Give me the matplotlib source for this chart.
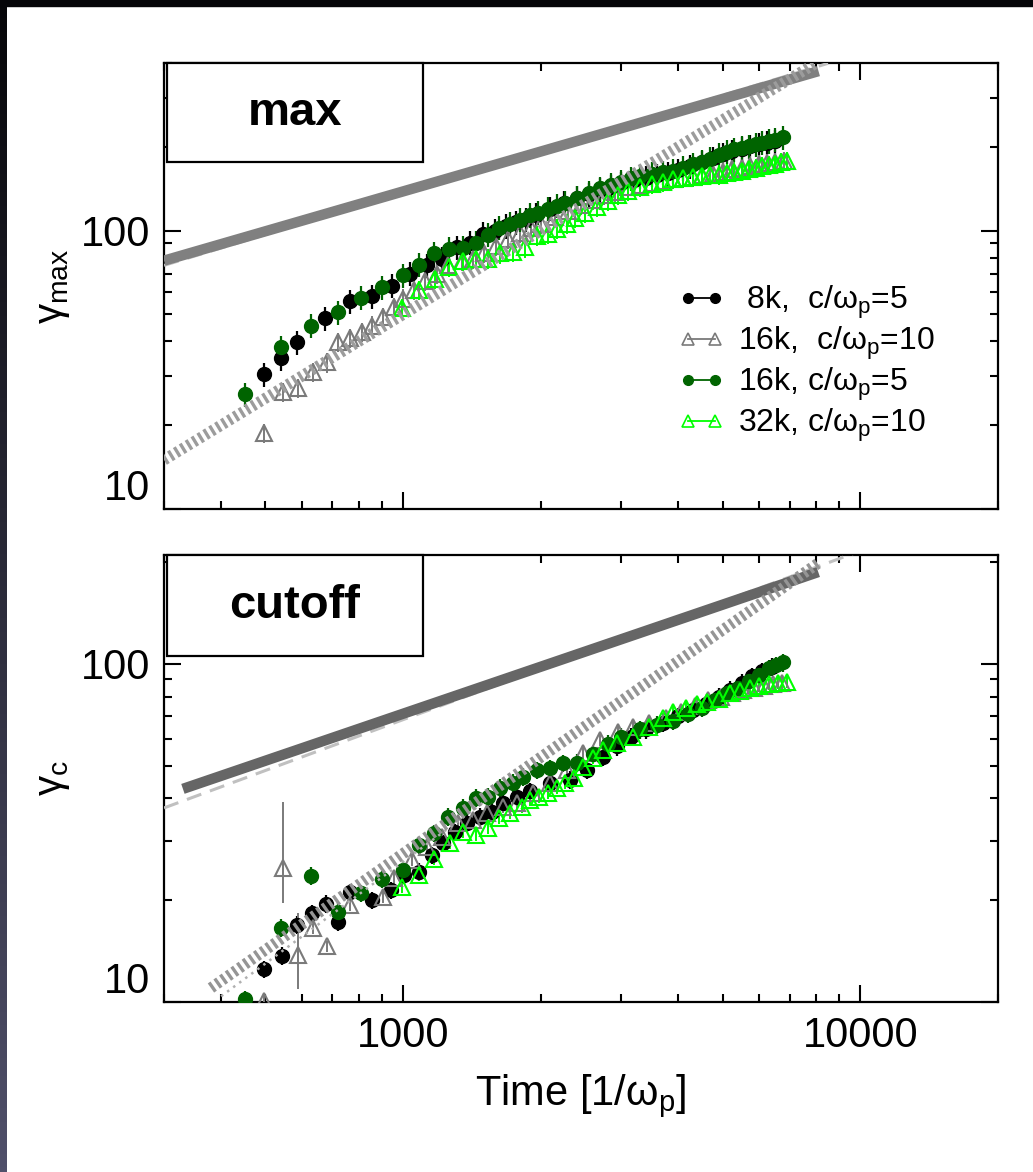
import numpy as np
import matplotlib
matplotlib.use('Agg')
import matplotlib.pyplot as plt
from matplotlib.lines import Line2D
from matplotlib.patches import Rectangle
from matplotlib.ticker import NullFormatter

plt.rcParams['font.family'] = ['Liberation Sans Narrow', 'Liberation Sans', 'DejaVu Sans']
plt.rcParams['mathtext.fontset'] = 'custom'
plt.rcParams['mathtext.rm'] = 'Liberation Sans'
plt.rcParams['mathtext.it'] = 'Liberation Sans:italic'

# ---------------- data : gamma_max (top panel) ----------------
t_8k_max = [497, 541, 586, 675, 766, 856, 946, 1036, 1129, 1217, 1313, 1402, 1496, 1590, 1680,
            1770, 1860, 1950, 2100, 2250, 2400, 2550, 2700, 2850, 3000, 3200, 3400, 3600, 3800,
            4000, 4250, 4500, 4750, 5000, 5250, 5500, 5750, 6000, 6250, 6500]
g_8k_max = [30.5, 34.8, 39.7, 48.4, 55.7, 58, 63.5, 70, 75, 79.3, 87, 90.6, 97.6, 100, 104,
            107, 110, 114, 120, 126, 131, 135, 140, 144, 148, 152, 155, 158, 161,
            165, 170, 176, 182, 188, 193, 197, 201, 204, 207, 209]

t_16k10_max = [497, 547, 590, 635, 682, 721, 766, 813, 856, 904, 953, 1000, 1057, 1117, 1186,
               1254, 1346, 1423, 1500, 1600, 1700, 1800, 1900, 2000, 2150, 2300, 2450, 2600,
               2750, 2900, 3100, 3300, 3500, 3700, 3900, 4100, 4300, 4500, 4750, 5000, 5250,
               5500, 5750, 6000, 6250, 6500, 6800]
g_16k10_max = [18.7, 26.3, 27.2, 31.0, 33.6, 39.7, 41, 43.1, 45.6, 48.8, 53, 57, 61, 66, 70,
               75, 78, 79, 83, 88, 93, 98, 102, 106, 112, 118, 124, 129,
               134, 138, 143, 146, 148, 151, 153, 155, 156, 158, 160, 163, 166,
               168, 171, 173, 175, 176, 178]

t_16k5_max = [450, 541, 629, 721, 809, 900, 1000, 1084, 1170, 1261, 1353, 1444, 1535, 1621, 1714,
              1803, 1895, 1974, 2075, 2174, 2263, 2400, 2550, 2700, 2850, 3000, 3150, 3300, 3500,
              3700, 3900, 4100, 4300, 4500, 4700, 4900, 5100, 5300, 5500, 5700, 5900, 6100, 6300,
              6500, 6790]
g_16k5_max = [25.8, 38.1, 45.6, 50.8, 57.5, 62.5, 69, 75.5, 82.8, 86.2, 86.9, 90.6, 96.8, 102.5, 106,
              109.5, 114, 116, 120, 123, 126, 131, 137, 142, 146, 150, 154, 157, 160,
              162, 164, 168, 173, 177, 181, 187, 192, 196, 198, 201, 204, 207, 210,
              212, 216]

t_32k_max = [995, 1084, 1175, 1261, 1353, 1444, 1535, 1630, 1741, 1846, 1963, 2075, 2174, 2283,
             2380, 2500, 2650, 2800, 2950, 3100, 3300, 3500, 3700, 3900, 4100, 4300, 4500, 4700,
             4900, 5100, 5300, 5500, 5700, 5900, 6100, 6300, 6500, 6700, 6920]
g_32k_max = [52.6, 61, 67, 74, 78, 79, 79.3, 82.8, 83.5, 87, 96, 97.6, 101.6, 106,
             111, 116, 122, 128, 134, 139, 143, 147, 150, 153, 155, 156, 157, 158,
             159, 161, 163, 164, 166, 168, 170, 172, 174, 176, 178]

# fit lines, top panel (end points)
fit_solid_max_t = [300, 8100]
fit_solid_max_g = [78, 374]
fit_dash_max_t = [300, 8500]
fit_dash_max_g = [75, 399]
fit_dot_max_t = [300, 8000]
fit_dot_max_g = [15, 400]

# ---------------- data : gamma_c (bottom panel) ----------------
t_8k_c = [497, 544, 586, 632, 678, 721, 766, 856, 942, 1005, 1084, 1157, 1223, 1300, 1380,
          1474, 1565, 1655, 1776, 1895, 2097, 2318, 2529, 2736, 2936, 3150, 3400, 3700, 4000,
          4300, 4600, 4900, 5200, 5500, 5800, 6100, 6400]
g_8k_c = [12.5, 13.7, 16.9, 18.3, 19.5, 17.3, 21.1, 20.0, 21.4, 23.8, 24.3, 27.2, 29.5, 31.8, 33.9,
          35.3, 36.5, 38.8, 40.5, 42, 44.5, 45.4, 48.5, 53, 57, 61, 64, 67, 70,
          73, 76, 80, 84, 88, 92, 95, 98]

t_16k10_c = [497, 547, 590, 635, 682, 766, 904, 953, 1046, 1129, 1217, 1320, 1423, 1527, 1655,
             1776, 1925, 2097, 2283, 2475, 2700, 2950, 3186, 3450, 3750, 4050, 4350, 4650, 4950,
             5250, 5550, 5850, 6150, 6450, 6750]
g_16k10_c = [10.1, 24.9, 13.8, 16.6, 14.6, 19.4, 20.5, 23.3, 26.3, 28.8, 30.8, 33.9, 34.6, 36.2, 37.8,
             38.8, 41.5, 44.5, 48.5, 54.5, 59.6, 63, 65.2, 67, 69, 72, 75, 78, 80,
             82, 84, 85, 86, 87, 88]
# the two large error bars of the 16k, c/wp=10 run
t_big_err = [547, 590]
g_big_err = [24.9, 13.8]
g_big_lo = [19.6, 10.9]
g_big_hi = [39.0, 18.3]

t_16k5_c = [450, 541, 629, 721, 809, 900, 1000, 1084, 1170, 1254, 1353, 1444, 1535, 1630, 1741,
            1833, 1963, 2097, 2240, 2400, 2600, 2800, 3000, 3300, 3600, 3900, 4200, 4500, 4800,
            5100, 5400, 5700, 6000, 6300, 6550, 6790]
g_16k5_c = [10.2, 16.6, 23.6, 18.5, 21.0, 23.1, 24.6, 29.1, 31.6, 35.3, 37.5, 40.2, 40.5, 43, 44.5,
            46.3, 48.5, 49.2, 50.9, 51, 54, 58, 61, 64, 66, 68, 71, 74, 78,
            82, 85, 89, 93, 97, 99, 101]

t_32k_c = [995, 1084, 1170, 1267, 1353, 1444, 1535, 1621, 1714, 1820, 1895, 1984, 2075, 2174, 2263,
           2360, 2475, 2604, 2736, 2936, 3190, 3450, 3700, 3900, 4150, 4400, 4624, 4900, 5200,
           5461, 5750, 6000, 6300, 6600, 6920]
g_32k_c = [21.9, 23.8, 26.5, 29.5, 31.8, 31.2, 32.7, 35, 36.2, 37.8, 39.6, 40.5, 41.5, 43, 44.5,
           46, 49.5, 52.7, 55.7, 58.4, 61, 65, 69, 72, 74, 76, 77, 79, 82,
           83, 85, 86, 87, 88, 88.5]

# fit lines, bottom panel (end points)
fit_solid_c_t = [330, 8090]
fit_solid_c_g = [42.7, 187]
fit_dash_c_t = [300, 10000]
fit_dash_c_g = [37.5, 216]
fit_dot_c_t = [380, 8100]
fit_dot_c_g = [11, 199]
fit_thin_c_t = [400, 1500]
fit_thin_c_g = [10.4, 39]

# relative error bars
err_circ_max = 0.10
err_tri_max = 0.08
err_circ_c = 0.06
err_tri_c = 0.04

black = 'black'
gray = '#7a7a7a'
dgreen = '#006400'
lgreen = '#00ff00'

fig = plt.figure(figsize=(10.33, 11.72), dpi=100)
fig.patch.set_facecolor('white')

# dark frame on the top and left of the picture
strip = fig.add_axes([0, 0, 7/1033, 1])
strip.imshow(np.linspace(0, 1, 256).reshape(-1, 1), aspect='auto',
             cmap=matplotlib.colors.LinearSegmentedColormap.from_list('s', ['#060609', '#50506a']))
strip.set_axis_off()
fig.patches.append(Rectangle((0, 1-6/1172), 1, 6/1172, transform=fig.transFigure, color='#050508', zorder=5))

ax1 = fig.add_axes([164/1033, 1-509/1172, 834/1033, 446/1172])
ax2 = fig.add_axes([164/1033, 1-1002/1172, 834/1033, 447/1172])


def plot_series(ax, t, g, err, color, marker):
    t = np.array(t)
    g = np.array(g)
    if marker == 'o':
        ax.errorbar(t, g, yerr=err*g, fmt='o', color=color, ms=10, elinewidth=1.6,
                    capsize=0, zorder=3)
    else:
        ax.errorbar(t, g, yerr=err*g, fmt='^', color=color, mfc='none', mec=color, mew=1.5,
                    ms=11.5, elinewidth=1.4, capsize=0, zorder=3)


# top panel
ax1.plot(fit_dash_max_t, fit_dash_max_g, color='#c0c0c0', lw=2.2, ls=(0, (5, 3)), zorder=4)
ax1.plot(fit_solid_max_t, fit_solid_max_g, color='#808080', lw=7.5, solid_capstyle='butt', zorder=4)
plot_series(ax1, t_8k_max, g_8k_max, err_circ_max, black, 'o')
plot_series(ax1, t_16k10_max, g_16k10_max, err_tri_max, gray, '^')
plot_series(ax1, t_16k5_max, g_16k5_max, err_circ_max, dgreen, 'o')
plot_series(ax1, t_32k_max, g_32k_max, err_tri_max, lgreen, '^')
ax1.plot(fit_dot_max_t, fit_dot_max_g, color='#9c9c9c', lw=8, ls=(0, (0.3, 0.32)),
         solid_capstyle='butt', dash_capstyle='butt', zorder=4)

# bottom panel
ax2.plot(fit_dash_c_t, fit_dash_c_g, color='#c0c0c0', lw=2.2, ls=(0, (5, 3)), zorder=4)
ax2.plot(fit_solid_c_t, fit_solid_c_g, color='#666666', lw=7.5, solid_capstyle='butt', zorder=4)
plot_series(ax2, t_8k_c, g_8k_c, err_circ_c, black, 'o')
plot_series(ax2, t_16k10_c, g_16k10_c, err_tri_c, gray, '^')
ax2.errorbar(t_big_err, g_big_err,
             yerr=[np.array(g_big_err)-np.array(g_big_lo), np.array(g_big_hi)-np.array(g_big_err)],
             fmt='none', ecolor=gray, elinewidth=1.4, capsize=0, zorder=3)
plot_series(ax2, t_16k5_c, g_16k5_c, err_circ_c, dgreen, 'o')
plot_series(ax2, t_32k_c, g_32k_c, err_tri_c, lgreen, '^')
ax2.plot(fit_thin_c_t, fit_thin_c_g, color='#b0b0b0', lw=1.8, ls=(0, (1, 2)), zorder=4)
ax2.plot(fit_dot_c_t, fit_dot_c_g, color='#959595', lw=8, ls=(0, (0.3, 0.32)),
         dash_capstyle='butt', zorder=4)

for ax, ylim in [(ax1, (10, 400)), (ax2, (10, 210))]:
    ax.set_xscale('log')
    ax.set_yscale('log')
    ax.set_xlim(300, 20000)
    ax.set_ylim(*ylim)
    ax.set_xticks([1000, 10000])
    ax.set_xticklabels(['1000', '10000'])
    ax.set_yticks([10, 100])
    ax.set_yticklabels(['10', '100'])
    ax.xaxis.set_minor_formatter(NullFormatter())
    ax.yaxis.set_minor_formatter(NullFormatter())
    ax.tick_params(which='both', direction='in', top=True, right=True, width=1.5,
                   labelsize=30, color='black')
    ax.tick_params(which='major', length=12, pad=10)
    ax.tick_params(which='minor', length=6)
    for s in ax.spines.values():
        s.set_linewidth(1.6)
    ax.get_yticklabels()[0].set_verticalalignment('bottom')

ax1.tick_params(labelbottom=False)

ax1.set_ylabel('γ$_\\mathrm{max}$', fontsize=29, labelpad=6)
ax2.set_ylabel('γ$_\\mathrm{c}$', fontsize=29, labelpad=6)
ax2.set_xlabel('Time [1/ω$_\\mathrm{p}$]', fontsize=30, labelpad=12)

# title boxes
for ax, txt, y0 in [(ax1, 'max', 0.778), (ax2, 'cutoff', 0.774)]:
    ax.add_patch(Rectangle((0.004, y0), 0.306, 1.0-y0, transform=ax.transAxes,
                           facecolor='white', edgecolor='black', lw=1.6, zorder=6, clip_on=False))
    ax.text(0.157, (1.0+y0)/2, txt, transform=ax.transAxes, ha='center', va='center',
            fontsize=34, fontweight='bold', family=['Liberation Sans', 'DejaVu Sans'], zorder=7)

# legend
handles = [
    Line2D([0], [0], color=black, marker='o', ms=7, lw=1.3),
    Line2D([0], [0], color=gray, marker='^', ms=8, mfc='none', mew=1.2, lw=1.3),
    Line2D([0], [0], color=dgreen, marker='o', ms=7, lw=1.3),
    Line2D([0], [0], color=lgreen, marker='^', ms=8, mfc='none', mew=1.2, lw=1.3),
]
labels = [' 8k,  c/ω$_\\mathrm{p}$=5', '16k,  c/ω$_\\mathrm{p}$=10',
          '16k, c/ω$_\\mathrm{p}$=5', '32k, c/ω$_\\mathrm{p}$=10']
ax1.legend(handles, labels, loc='upper left', bbox_to_anchor=(0.617, 0.505), frameon=False,
           fontsize=23, numpoints=2, handlelength=1.45, handletextpad=0.4, labelspacing=0.12,
           borderpad=0, borderaxespad=0)

plt.savefig('out.png', dpi=100)
